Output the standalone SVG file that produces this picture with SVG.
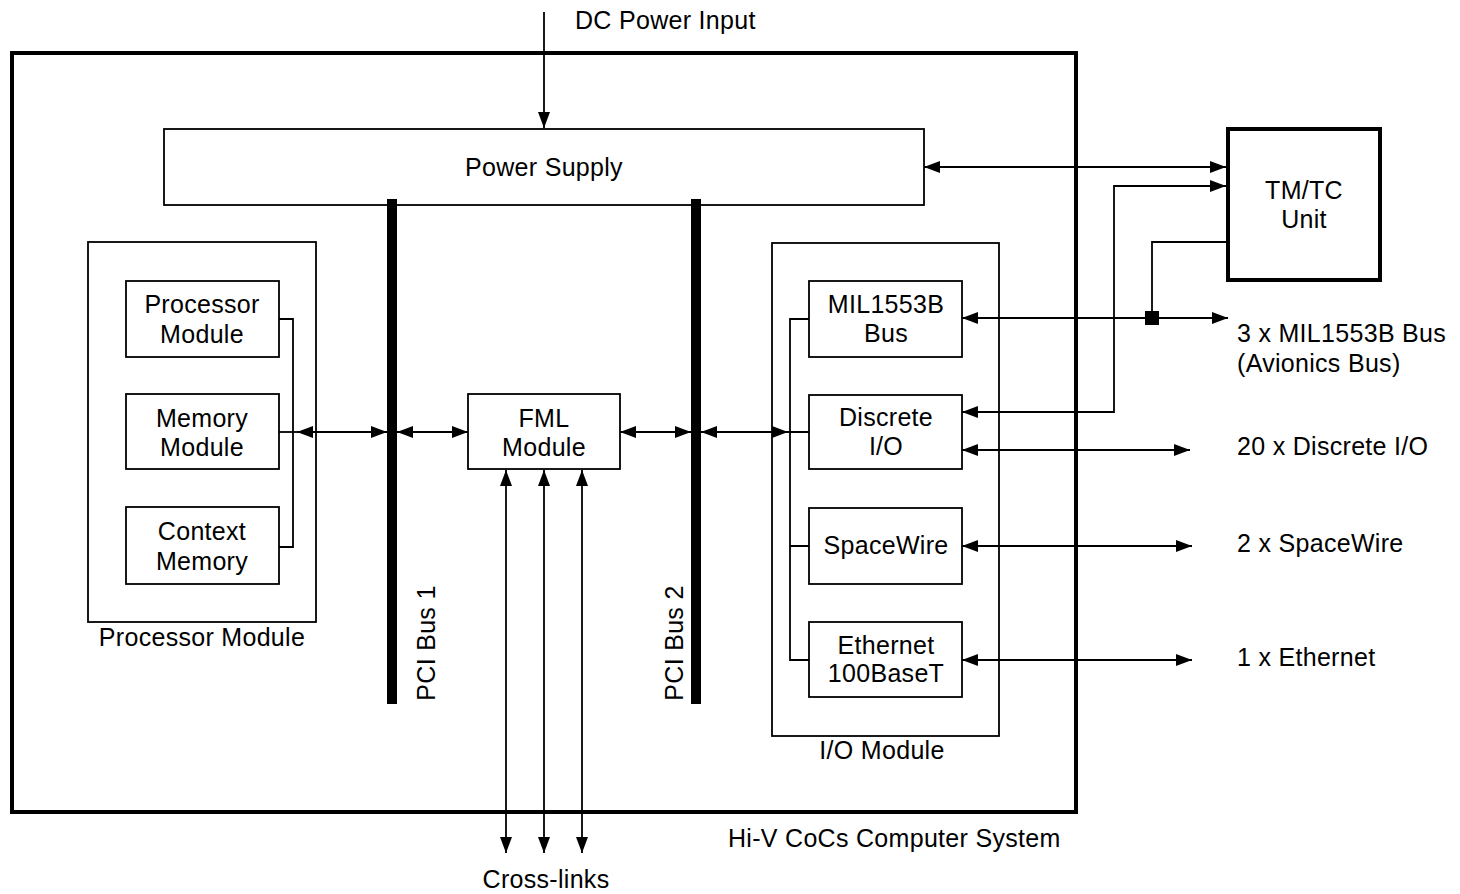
<svg xmlns="http://www.w3.org/2000/svg" width="1460" height="894" viewBox="0 0 1460 894">
<style>
text{font-family:"Liberation Sans",Arial,sans-serif;font-size:25px;letter-spacing:0.3px;fill:#000}
.c{text-anchor:middle}
.box{fill:#fff;stroke:#000;stroke-width:1.8}
.frame{fill:none;stroke:#000;stroke-width:1.8}
.thick{fill:none;stroke:#000;stroke-width:4}
.ln{fill:none;stroke:#000;stroke-width:1.8}
.ar{fill:none;stroke:#000;stroke-width:1.8;marker-start:url(#ah);marker-end:url(#ah)}
.a1{fill:none;stroke:#000;stroke-width:1.8;marker-end:url(#ah)}
</style>
<defs>
<marker id="ah" markerUnits="userSpaceOnUse" markerWidth="17" markerHeight="12" refX="16" refY="6" orient="auto-start-reverse" viewBox="0 0 17 12">
<path d="M0,0 L16,6 L0,12 z" fill="#000"/>
</marker>
</defs>
<rect width="1460" height="894" fill="#fff"/>

<g id="system">
<rect class="thick" x="12" y="53" width="1064" height="759"/>
<text x="728" y="847">Hi-V CoCs Computer System</text>
</g>

<g id="power-supply">
<rect class="box" x="164" y="129" width="760" height="76"/>
<text class="c" x="544" y="176">Power Supply</text>
</g>

<g id="processor-group">
<rect class="frame" x="88" y="242" width="228" height="380"/>
<text class="c" x="202" y="646">Processor Module</text>
</g>
<g id="processor-module">
<rect class="box" x="126" y="281" width="153" height="76"/>
<text class="c" x="202" y="313">Processor</text>
<text class="c" x="202" y="343">Module</text>
</g>
<g id="memory-module">
<rect class="box" x="126" y="394" width="153" height="75"/>
<text class="c" x="202" y="427">Memory</text>
<text class="c" x="202" y="456">Module</text>
</g>
<g id="context-memory">
<rect class="box" x="126" y="507" width="153" height="77"/>
<text class="c" x="202" y="540">Context</text>
<text class="c" x="202" y="570">Memory</text>
</g>

<g id="pci-bus-1">
<rect x="387" y="199" width="10" height="505" fill="#000"/>
<text class="c" transform="translate(435,643) rotate(-90)">PCI Bus 1</text>
</g>
<g id="pci-bus-2">
<rect x="691" y="199" width="10" height="505" fill="#000"/>
<text class="c" transform="translate(683,643) rotate(-90)">PCI Bus 2</text>
</g>

<g id="fml-module">
<rect class="box" x="468" y="394" width="152" height="75"/>
<text class="c" x="544" y="427">FML</text>
<text class="c" x="544" y="456">Module</text>
</g>

<g id="io-group">
<rect class="frame" x="772" y="243" width="227" height="493"/>
<text class="c" x="882" y="759">I/O Module</text>
</g>
<g id="mil1553b">
<rect class="box" x="809" y="281" width="153" height="76"/>
<text class="c" x="886" y="313">MIL1553B</text>
<text class="c" x="886" y="342">Bus</text>
</g>
<g id="discrete-io">
<rect class="box" x="809" y="395" width="153" height="74"/>
<text class="c" x="886" y="426">Discrete</text>
<text class="c" x="886" y="455">I/O</text>
</g>
<g id="spacewire">
<rect class="box" x="809" y="508" width="153" height="76"/>
<text class="c" x="886" y="554">SpaceWire</text>
</g>
<g id="ethernet">
<rect class="box" x="809" y="622" width="153" height="75"/>
<text class="c" x="886" y="654">Ethernet</text>
<text class="c" x="886" y="682">100BaseT</text>
</g>

<g id="tmtc-unit">
<rect class="thick" x="1228" y="129" width="152" height="151" fill="#fff"/>
<text class="c" x="1304" y="199">TM/TC</text>
<text class="c" x="1304" y="228">Unit</text>
</g>

<g id="labels">
<text x="575" y="29">DC Power Input</text>
<text class="c" x="546" y="888">Cross-links</text>
<text x="1237" y="342">3 x MIL1553B Bus</text>
<text x="1237" y="372">(Avionics Bus)</text>
<text x="1237" y="455">20 x Discrete I/O</text>
<text x="1237" y="552">2 x SpaceWire</text>
<text x="1237" y="666">1 x Ethernet</text>
</g>

<g id="connectors">
<path class="a1" d="M544,12 V128"/>
<path class="ln" d="M279,319 H293 V547 H279"/>
<path class="ln" d="M279,432 H297"/>
<path class="ar" d="M297,432 H387"/>
<path class="ar" d="M397,432 H468"/>
<path class="ar" d="M620,432 H691"/>
<path class="ar" d="M701,432 H788"/>
<path class="ln" d="M809,319 H790 V660 H809 M788,432 H809 M790,546 H809"/>
<path class="ar" d="M506,470 V853"/>
<path class="ar" d="M544,470 V853"/>
<path class="ar" d="M582,470 V853"/>
<path class="ar" d="M924,167 H1226"/>
<path class="ar" d="M962,412 H1114 V186 H1226"/>
<path class="ln" d="M1226,242 H1152 V318"/>
<path class="ar" d="M962,318 H1228"/>
<rect x="1145" y="311" width="14" height="14" fill="#000"/>
<path class="ar" d="M962,450 H1190"/>
<path class="ar" d="M962,546 H1192"/>
<path class="ar" d="M962,660 H1192"/>
</g>
</svg>
